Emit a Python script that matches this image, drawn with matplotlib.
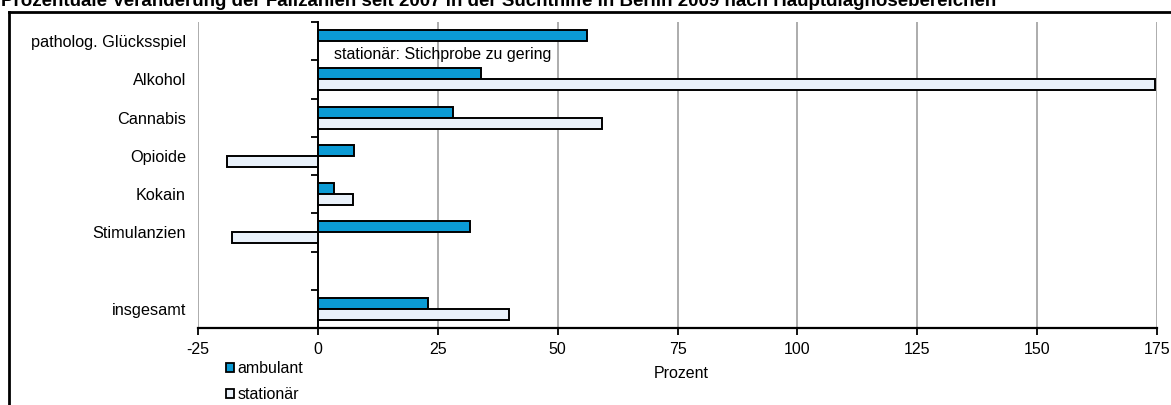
import matplotlib
matplotlib.use("Agg")
import matplotlib.pyplot as plt
from matplotlib.patches import Patch
from matplotlib.lines import Line2D
import numpy as np

plt.rcParams['font.family'] = ['Liberation Sans', 'DejaVu Sans']

title = ("Prozentuale Veränderung der Fallzahlen seit 2007 in der Suchthilfe "
         "in Berlin 2009 nach Hauptdiagnosebereichen")
categories = ["patholog. Glücksspiel", "Alkohol", "Cannabis", "Opioide",
              "Kokain", "Stimulanzien", "", "insgesamt"]
ambulant = [56.2, 34.0, 28.2, 7.6, 3.3, 31.7, np.nan, 22.9]
stationaer = [np.nan, 174.5, 59.2, -19.0, 7.3, -17.9, np.nan, 39.8]
series_names = ["ambulant", "stationär"]
note = "stationär: Stichprobe zu gering"
xticks = [-25, 0, 25, 50, 75, 100, 125, 150, 175]
xlabel = "Prozent"

col_amb = "#0B9BD5"
col_sta = "#E9F1FA"
fs = 11.5

W, H = 1171, 405
fig = plt.figure(figsize=(W / 100, H / 100), dpi=100)
ax = fig.add_axes([198 / W, 1 - 328 / H, (1157 - 198) / W, (328 - 22) / H])

pos = np.arange(len(categories))
bh = 0.29
ax.barh(pos - bh / 2, ambulant, height=bh, color=col_amb,
        edgecolor="black", linewidth=1.4, zorder=3)
ax.barh(pos + bh / 2, stationaer, height=bh, color=col_sta,
        edgecolor="black", linewidth=1.4, zorder=3)

ax.set_ylim(len(categories) - 0.5, -0.5)
ax.set_xlim(-25, 175)
ax.set_xticks(xticks)
ax.set_xticklabels([str(v) for v in xticks])

# category boundaries carry the tick marks, labels sit at the slot centres
ax.set_yticks(np.arange(len(categories) + 1) - 0.5)
ax.set_yticklabels([])
ax.set_yticks(pos, minor=True)
ax.set_yticklabels(categories, minor=True)
ax.tick_params(axis="y", which="minor", length=0, pad=95, labelsize=11.7)
ax.tick_params(axis="y", which="major", length=5, width=1.3, direction="out")
ax.tick_params(axis="x", length=5, width=1.3, direction="out", pad=5,
               labelsize=fs)

ax.grid(axis="x", color="#A6A6A6", linewidth=1.3, zorder=0)
ax.grid(axis="y", visible=False)
for s in ("top", "right"):
    ax.spines[s].set_visible(False)
ax.spines["left"].set_position(("data", 0))
ax.spines["left"].set_linewidth(1.4)
ax.spines["bottom"].set_linewidth(1.6)
ax.set_axisbelow(True)

ax.text(3.3, pos[0] + 0.34, note, fontsize=fs, va="center", ha="left")

fig.text(681 / W, 1 - 373 / H, xlabel, fontsize=fs, ha="center", va="center")

handles = [Patch(facecolor=col_amb, edgecolor="black", linewidth=1.3),
           Patch(facecolor=col_sta, edgecolor="black", linewidth=1.3)]
fig.legend(handles, series_names, loc="upper left",
           bbox_to_anchor=(226 / W, 1 - 361 / H), frameon=False,
           fontsize=fs, handlelength=0.5, handleheight=0.5,
           handletextpad=0.2, labelspacing=0.7, borderpad=0,
           borderaxespad=0)

# outer frame (top and left edges)
fig.add_artist(Line2D([9 / W, 1.0], [1 - 12 / H, 1 - 12 / H],
                      transform=fig.transFigure, color="black", linewidth=2))
fig.add_artist(Line2D([9 / W, 9 / W], [0, 1 - 12 / H],
                      transform=fig.transFigure, color="black", linewidth=2))

fig.text(1 / W, 1 - 6 / H, title, fontsize=13.5, fontweight="bold",
         ha="left", va="baseline")

fig.savefig("out.png", dpi=100)
